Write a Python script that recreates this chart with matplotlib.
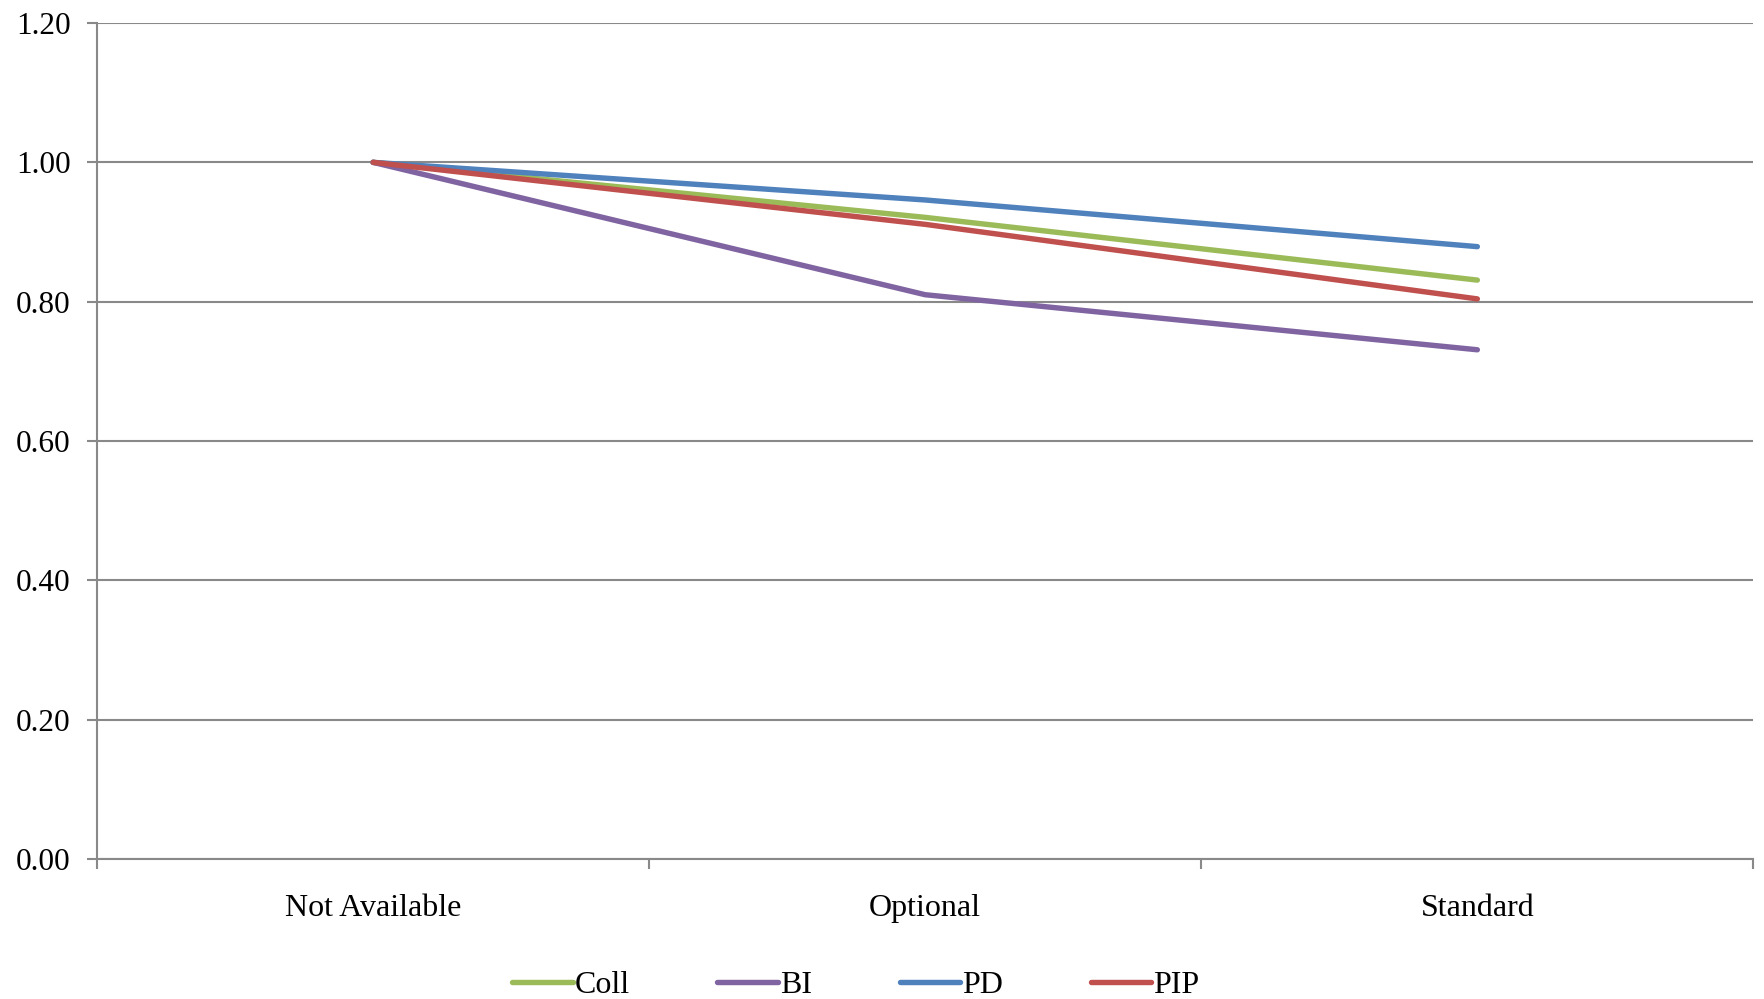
import matplotlib
matplotlib.use("Agg")
import matplotlib.pyplot as plt

categories = ["Not Available", "Optional", "Standard"]
series_names = ["Coll", "BI", "PD", "PIP"]
coll = [1.00, 0.921, 0.831]
bi = [1.00, 0.810, 0.731]
pd_vals = [1.00, 0.946, 0.879]
pip = [1.00, 0.911, 0.804]
colors = ["#9BBB59", "#8064A2", "#4F81BD", "#C0504D"]
yticks = [0.0, 0.2, 0.4, 0.6, 0.8, 1.0, 1.2]

plt.rcParams['font.family'] = ['Liberation Serif', 'DejaVu Serif']

fig = plt.figure(figsize=(17.64, 9.99), dpi=100)
ax = fig.add_axes([0.055, 0.140, 0.939, 0.837])

xpos = [i + 0.5 for i in range(len(categories))]
for name, vals, c in zip(series_names, [coll, bi, pd_vals, pip], colors):
    ax.plot(xpos, vals, color=c, lw=3.9, solid_capstyle='round', label=name, zorder=3)

ax.set_xlim(0, len(categories))
ax.set_ylim(0, 1.2)
ax.set_yticks(yticks)
ax.set_yticklabels([f"{v:.2f}" for v in yticks], fontsize=22.5)
ax.yaxis.grid(True, color="#898989", lw=1.5)
ax.set_axisbelow(True)

ax.set_xticks(range(len(categories) + 1))
ax.set_xticklabels([])
ax.set_xticks(xpos, minor=True)
ax.set_xticklabels(categories, minor=True, fontsize=23)
ax.tick_params(axis='x', which='minor', length=0, pad=25)
ax.tick_params(axis='x', which='major', length=7, width=1.5, color="#898989")
ax.tick_params(axis='y', length=7, width=1.5, color="#898989", pad=12)

for s in ['top', 'right']:
    ax.spines[s].set_visible(False)
for s in ['left', 'bottom']:
    ax.spines[s].set_color("#898989")
    ax.spines[s].set_linewidth(1.5)

fig.legend(loc='center', bbox_to_anchor=(0.485, 0.014), ncol=4, frameon=False,
           fontsize=23, handlelength=1.9, handletextpad=0.05, columnspacing=2.75)

fig.savefig("out.png", dpi=100)
